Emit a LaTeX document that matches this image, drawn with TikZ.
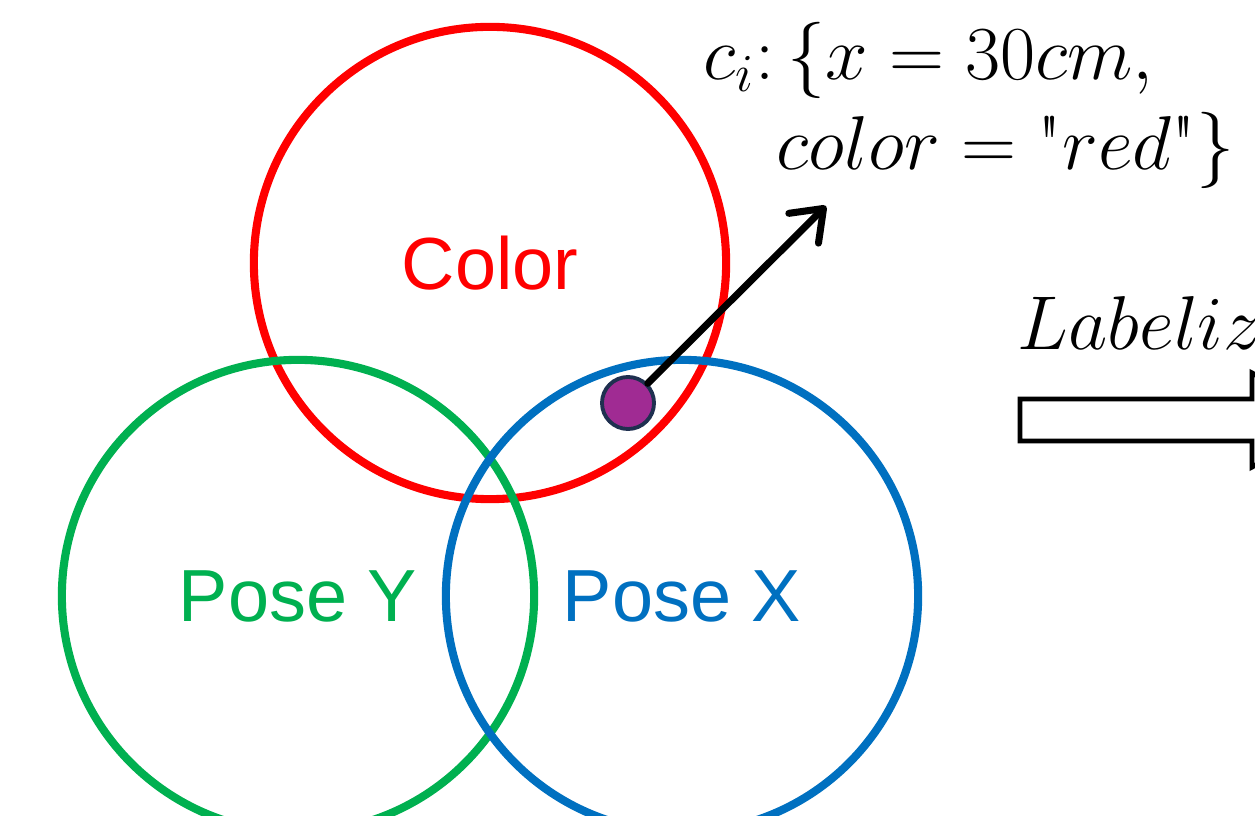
\RequirePackage{fix-cm}
\documentclass[tikz,border=0pt]{standalone}
\usepackage{fontspec}
\newfontfamily\arialfont{Liberation Sans}
\usepackage{xcolor}
\definecolor{vennred}{HTML}{FF0000}
\definecolor{venngreen}{HTML}{00B050}
\definecolor{vennblue}{HTML}{0070C0}
\definecolor{dotpurple}{HTML}{A02B93}
\definecolor{dotnavy}{HTML}{1F3050}
\usepackage{tikz}
\usetikzlibrary{arrows.meta, positioning}
\tikzset{
  vcirc/.style ={circle, minimum size=4.72cm, inner sep=0pt, line width=2.3pt,
                 font=\arialfont\fontsize{21}{25}\selectfont},
  pdot/.style  ={circle, minimum size=0.52cm, inner sep=0pt, fill=dotpurple, draw=dotnavy, line width=1.1pt},
  parr/.style  ={-{Straight Barb[length=0.28cm, width=0.42cm, round]}, line width=2pt, line cap=round, color=black},
  mlbl/.style  ={anchor=base west, inner sep=0pt, font=\fontsize{21.7}{26}\selectfont},
  harr/.style  ={line width=1.4pt, draw=black, line join=miter},
}
\begin{document}
\begin{tikzpicture}[x=0.01cm, y=-0.01cm]
  \useasboundingbox (0,0) rectangle (1255,816);
  \clip (0,0) rectangle (1255,816);
  % three sets
  \node[vcirc, draw=vennred, text=vennred] (color) at (490,263) {Color};
  \node[vcirc, draw=venngreen, text=venngreen] (posey) at (298,596) {Pose Y};
  \node[vcirc, draw=vennblue, text=vennblue] (posex) at (682,596) {Pose X};
  % sample point and its attributes
  \node[pdot] (ci) at (628,403) {};
  \coordinate (tip) at (826,206);
  \draw[parr] (ci) -- (tip);
  \node[mlbl] (attr1) at (703,80) {$c_i\colon\{x = 30cm,$};
  \node[mlbl] (attr2) at (776,170) {$color = \mbox{\textquotedbl}red\mbox{\textquotedbl}\}$};
  % labelize step
  \node[mlbl] (lbl) at (1017,350) {$Labelize$};
  \draw[harr] (1020,399) -- (1252,399) -- (1252,373) -- (1340,420) -- (1252,467)
    -- (1252,441) -- (1020,441) -- cycle;
\end{tikzpicture}
\end{document}
